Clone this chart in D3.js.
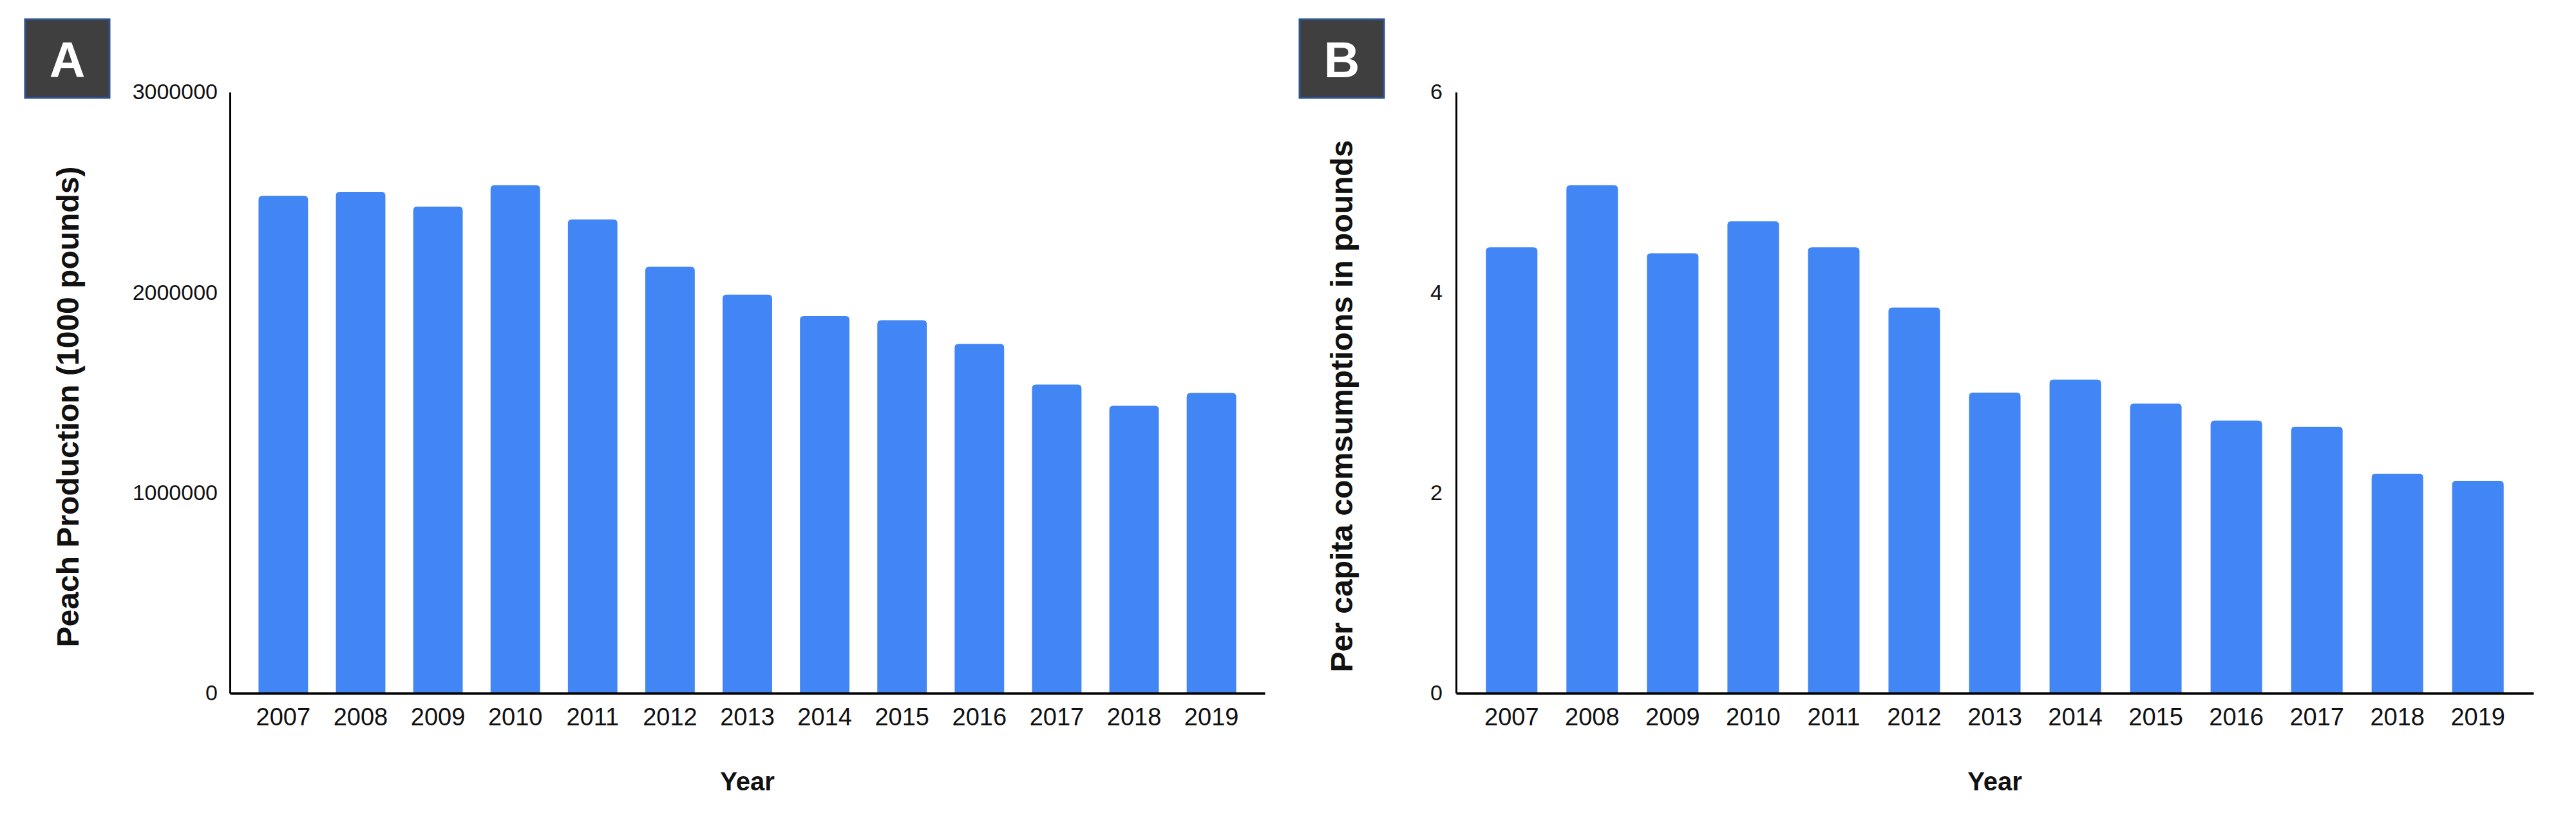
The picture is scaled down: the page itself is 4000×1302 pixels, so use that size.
<!DOCTYPE html>
<html>
<head>
<meta charset="utf-8">
<script src="https://cdn.jsdelivr.net/npm/d3@7/dist/d3.min.js"></script>
<style>
  html, body { margin: 0; padding: 0; background: #ffffff; }
  svg { display: block; }
  text { font-family: "Liberation Sans", Arial, Helvetica, sans-serif; }
</style>
</head>
<body>
<script>
// ---------------- data ----------------
const years = ["2007","2008","2009","2010","2011","2012","2013","2014","2015","2016","2017","2018","2019"];
const peachProduction = [2482000, 2502000, 2428000, 2535000, 2364000, 2128000, 1989000, 1882000, 1861000, 1743000, 1540000, 1434000, 1498000];
const perCapitaConsumption = [4.45, 5.07, 4.39, 4.71, 4.45, 3.85, 3.00, 3.13, 2.89, 2.72, 2.66, 2.19, 2.12];
const ticksA = [0, 1000000, 2000000, 3000000];
const ticksB = [0, 2, 4, 6];
const panelLabels = ["A", "B"];
const yTitles = ["Peach Production (1000 pounds)", "Per capita comsumptions in pounds"];
const xTitle = "Year";

// ---------------- drawing ----------------
const W = 4000, H = 1302;
const svg = d3.select("body").append("svg").attr("width", W).attr("height", H);
svg.append("rect").attr("width", W).attr("height", H).attr("fill", "#ffffff");

const BAR = "#4285f4";

function roundedTopBar(x, y, w, h, r) {
  r = Math.min(r, h, w / 2);
  return `M${x},${y + h} L${x},${y + r} Q${x},${y} ${x + r},${y} L${x + w - r},${y} Q${x + w},${y} ${x + w},${y + r} L${x + w},${y + h} Z`;
}

function panel(cfg) {
  const g = svg.append("g");
  const x = d3.scaleBand().domain(years).range([cfg.x0, cfg.x1]).paddingInner(0.36).paddingOuter(0.37);
  const y = d3.scaleLinear().domain([0, cfg.max]).range([cfg.yBase, cfg.yTop]);

  // bars
  g.selectAll("path.bar").data(cfg.values).enter().append("path")
    .attr("class", "bar")
    .attr("fill", BAR)
    .attr("d", (d, i) => roundedTopBar(x(years[i]), y(d), x.bandwidth(), y(0) - y(d), 6));

  // y axis
  const ya = g.append("g").attr("transform", `translate(${cfg.x0},0)`)
    .call(d3.axisLeft(y).tickValues(cfg.ticks).tickSize(0).tickPadding(cfg.tickPad).tickFormat(d3.format("d")));
  ya.select(".domain").attr("stroke", "#000").attr("stroke-width", 3);
  ya.selectAll("text").attr("font-size", 34).attr("fill", "#111").attr("font-family", "Liberation Sans, Arial, sans-serif");

  // x axis
  const xa = g.append("g").attr("transform", `translate(0,${cfg.yBase})`)
    .call(d3.axisBottom(x).tickSize(0).tickPadding(23).tickSizeOuter(0));
  xa.select(".domain").attr("stroke", "#000").attr("stroke-width", 4);
  xa.selectAll("text").attr("font-size", 38).attr("fill", "#111").attr("font-family", "Liberation Sans, Arial, sans-serif");

  // x title
  g.append("text").attr("x", (cfg.x0 + cfg.x1) / 2).attr("y", 1228)
    .attr("text-anchor", "middle").attr("font-size", 40).attr("font-weight", "bold").attr("fill", "#111")
    .text(xTitle);

  // y title
  g.append("text").attr("transform", `translate(${cfg.titleX},${cfg.titleY}) rotate(-90)`)
    .attr("text-anchor", "middle").attr("font-size", 48).attr("font-weight", "bold").attr("fill", "#111")
    .text(cfg.yTitle);

  // panel label box
  g.append("rect").attr("x", cfg.boxX).attr("y", 30).attr("width", 131).attr("height", 122)
    .attr("fill", "#3f3f3f").attr("stroke", "#2f5290").attr("stroke-width", 3);
  g.append("text").attr("x", cfg.boxX + 65.5).attr("y", 120)
    .attr("text-anchor", "middle").attr("font-size", 77).attr("font-weight", "bold").attr("fill", "#ffffff")
    .text(cfg.label);
}

panel({ values: peachProduction, ticks: ticksA, max: 3000000, x0: 357, x1: 1964, yTop: 143, yBase: 1077,
        tickPad: 19, titleX: 122, titleY: 632, yTitle: yTitles[0], boxX: 39, label: panelLabels[0] });
panel({ values: perCapitaConsumption, ticks: ticksB, max: 6, x0: 2261, x1: 3934, yTop: 143, yBase: 1077,
        tickPad: 21, titleX: 2100, titleY: 631, yTitle: yTitles[1], boxX: 2018, label: panelLabels[1] });
</script>
</body>
</html>
